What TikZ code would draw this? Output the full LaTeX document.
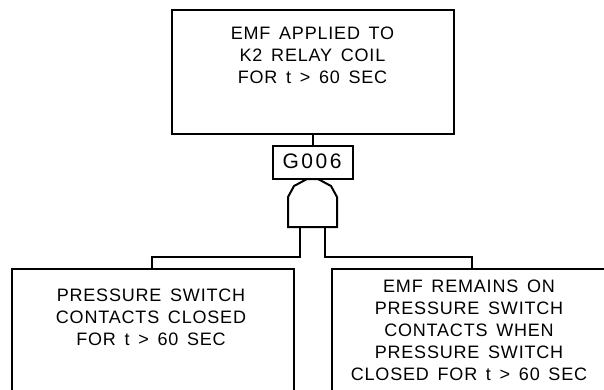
\documentclass[tikz,border=0pt]{standalone}
\usepackage{fontspec}
\setmainfont[LetterSpace=4.5,WordSpace=1.5]{Liberation Sans}
\newfontfamily\gfont[LetterSpace=12]{Liberation Sans}
\tikzset{
  x=1pt,y=-1pt,
  boxline/.style={draw=black,line width=2pt,fill=white,inner sep=0pt,outer sep=0pt},
  wire/.style={draw=black,line width=2pt},
  caption/.style={inner sep=0pt,outer sep=0pt,align=center,font=\fontsize{18}{22}\selectfont,anchor=north},
}
\begin{document}
\begin{tikzpicture}
\useasboundingbox (0,0) rectangle (604,390);
\clip (0,0) rectangle (604,390);
\node[boxline,minimum width=282pt,minimum height=124pt] (top) at (313,72) {};
\node[boxline,minimum width=80pt,minimum height=33pt] (gbox) at (313,162.5) {};
\node[inner sep=0pt,font=\gfont\fontsize{21}{22}\selectfont,anchor=base] (gtext) at (312,168) {G006};
\node[boxline,minimum width=282pt,minimum height=200pt] (left) at (152.5,369) {};
\node[boxline,minimum width=300pt,minimum height=200pt] (right) at (481.5,369) {};
\coordinate (gtop) at (313,179);
\coordinate (gl) at (300,227);
\coordinate (gr) at (325,227);
\coordinate (ljoin) at (300,257);
\coordinate (rjoin) at (325,257);
\coordinate (lturn) at (152,257);
\coordinate (rturn) at (472,257);
\coordinate (ltop) at (152,269);
\coordinate (rtop) at (472,269);
\draw[wire,line join=miter] (288,227) -- (288,197) -- (294,186) -- (307,179) -- (318,179) -- (331,186) -- (337,197) -- (337,227) -- cycle;
\draw[wire] (top.south) -- (gbox.north);
\draw[wire] (gl) -- (ljoin) -- (lturn) -- (ltop);
\draw[wire] (gr) -- (rjoin) -- (rturn) -- (rtop);
\node[caption] (ttext) at (312.5,26.5) {EMF APPLIED TO\\K2 RELAY COIL\\FOR t > 60 SEC};
\node[caption] (ltext) at (151,288.7) {PRESSURE SWITCH\\CONTACTS CLOSED\\FOR t > 60 SEC};
\node[caption] (rtext) at (469,279.7) {EMF REMAINS ON\\PRESSURE SWITCH\\CONTACTS WHEN\\PRESSURE SWITCH\\CLOSED FOR t > 60 SEC};
\end{tikzpicture}
\end{document}
